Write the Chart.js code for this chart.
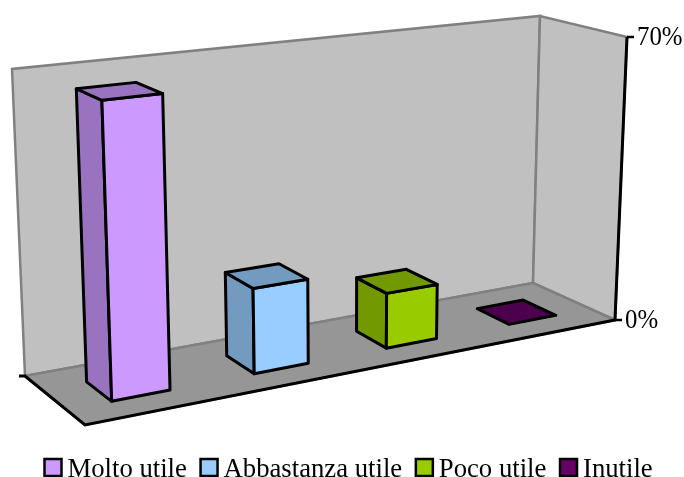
<!DOCTYPE html>
<html>
<head>
<meta charset="utf-8">
<script src="https://cdn.jsdelivr.net/npm/chart.js@4"></script>
<style>
    html, body {margin: 0; background: #fff;}
    canvas {display: block;}
</style>
</head>
<body>
<canvas id="chart" width="684" height="477"></canvas>
<script>
const categories = ['Molto utile', 'Abbastanza utile', 'Poco utile', 'Inutile'];
const values = [66.3, 19.5, 13, 0];
const faceColors = ['#cc99ff', '#99ccff', '#99cc00', '#660066'];
const sideColors = ['#9a73c0', '#739abf', '#739900', '#4d004d'];
const yTicks = [0, 70];

const font = 'Liberation Serif';
const axisFontSize = 27, axisFontStretch = 0.92, legendFontSize = 26.7;

// Corners of the 3D box, as [left, right] pairs of {front, back}.
const box = {
    bottom: {front: [[85, 425], [615, 320]], back: [[25, 376], [533, 283]]},
    top: {front: [[73, 97], [627, 37]], back: [[12, 69], [540, 16]]},
};
const perspective = 1.16;         // Foreshortening along the category axis
const barDepth = [0.305, 0.71];   // Depth range of the bars, 0 is the front

const mix = (a, b, t) => [a[0] + (b[0] - a[0]) * t, a[1] + (b[1] - a[1]) * t];

// Project (u: across, v: up, w: into the picture), all in [0; 1], to pixels.
function project(u, v, w) {
    const p = perspective * u / (1 + (perspective - 1) * u);
    const at = ({front, back}) => mix(mix(front[0], front[1], p),
                                      mix(back[0], back[1], p), w);
    return mix(at(box.bottom), at(box.top), v);
}

function poly(ctx, pts, fill, stroke, width) {
    ctx.beginPath();
    pts.forEach(([x, y], i) => i ? ctx.lineTo(x, y) : ctx.moveTo(x, y));
    ctx.closePath();
    if (fill) {
        ctx.fillStyle = fill;
        ctx.fill();
    }
    if (stroke) {
        ctx.strokeStyle = stroke;
        ctx.lineWidth = width;
        ctx.stroke();
    }
}

function line(ctx, pts, width) {
    ctx.beginPath();
    pts.forEach(([x, y], i) => i ? ctx.lineTo(x, y) : ctx.moveTo(x, y));
    ctx.strokeStyle = '#000';
    ctx.lineWidth = width;
    ctx.stroke();
}

// Draws the walls, the floor and the axis.
const walls = {
    id: 'walls',
    beforeDatasetsDraw(chart) {
        const {ctx, scales: {y}} = chart;
        const wallColor = '#c0c0c0', floorColor = '#969696', edge = '#808080';
        ctx.save();
        ctx.lineJoin = 'miter';
        poly(ctx, [project(0, 0, 1), project(0, 1, 1), project(1, 1, 1),
                   project(1, 0, 1)], wallColor, edge, 2.5);
        poly(ctx, [project(1, 0, 1), project(1, 1, 1), project(1, 1, 0),
                   project(1, 0, 0)], wallColor, edge, 2.5);
        poly(ctx, [project(0, 0, 0), project(0, 0, 1), project(1, 0, 1),
                   project(1, 0, 0)], floorColor, edge, 2.5);

        // Floor edges, with the tick marks of the category axes.
        const fl = project(0, 0, 0), fr = project(1, 0, 0), bl = project(0, 0, 1);
        line(ctx, [[bl[0] - 6, bl[1]], bl, fl, fr], 3);

        // Value axis.
        const h = y.bottom - y.top;
        line(ctx, [fr, project(1, 1, 0)], 3);
        ctx.font = `${axisFontSize}px "${font}"`;
        ctx.textAlign = 'left';
        ctx.textBaseline = 'middle';
        for (const t of y.ticks) {
            const p = project(1, (y.bottom - y.getPixelForValue(t.value)) / h, 0);
            line(ctx, [p, [p[0] + 7, p[1]]], 2.5);
            // The labels are narrower than the font at this height.
            ctx.save();
            ctx.translate(p[0] + 10, p[1] + 1);
            ctx.scale(axisFontStretch, 1);
            ctx.fillStyle = '#000';
            ctx.fillText(`${t.value}%`, 0, 0);
            ctx.restore();
        }
        ctx.restore();
    },
};

// Draws each bar element of the dataset as a box.
const boxes = {
    id: 'boxes',
    beforeDatasetDraw(chart, args) {
        const {ctx, chartArea: a, scales: {y}} = chart;
        const [w0, w1] = barDepth;
        ctx.save();
        ctx.lineJoin = 'round';
        for (const [i, bar] of args.meta.data.entries()) {
            const u0 = (bar.x - bar.width / 2 - a.left) / a.width;
            const u1 = (bar.x + bar.width / 2 - a.left) / a.width;
            const v = (bar.base - bar.y) / (y.bottom - y.top);
            const pts = (v, w) => [project(u0, v, w), project(u1, v, w)];
            const [fb0, fb1] = pts(0, w0), [ft0, ft1] = pts(v, w0);
            const [bb0] = pts(0, w1), [bt0, bt1] = pts(v, w1);
            const face = bar.options.backgroundColor;
            const side = sideColors[i];
            if (v > 0) {
                poly(ctx, [bb0, bt0, ft0, fb0], side, '#000', 3);
                poly(ctx, [ft0, ft1, fb1, fb0], face, '#000', 3);
            }
            poly(ctx, [bt0, bt1, ft1, ft0], side, '#000', 3);
        }
        ctx.restore();
        return false;
    },
};

// Draws the legend: the built-in one can't set the gap after the box.
const legendRow = {
    id: 'legendRow',
    afterDraw(chart) {
        const {ctx} = chart;
        const size = 17, boxGap = 6, itemGap = 13.7, top = 459;
        let x = 44.5;
        ctx.save();
        ctx.font = `${legendFontSize}px "${font}"`;
        ctx.textAlign = 'left';
        ctx.textBaseline = 'alphabetic';
        for (const [i, c] of categories.entries()) {
            ctx.fillStyle = faceColors[i];
            ctx.strokeStyle = '#000';
            ctx.lineWidth = 2.5;
            ctx.fillRect(x, top, size, size);
            ctx.strokeRect(x, top, size, size);
            ctx.fillStyle = '#000';
            ctx.fillText(c, x + size + boxGap, 476.5);
            x += size + boxGap + ctx.measureText(c).width + itemGap;
        }
        ctx.restore();
    },
};

new Chart(document.getElementById('chart'), {
    type: 'bar',
    data: {
        labels: categories,
        datasets: [{data: values, backgroundColor: faceColors}],
    },
    plugins: [walls, boxes, legendRow],
    options: {
        responsive: false,
        animation: false,
        layout: {padding: 0},
        categoryPercentage: 0.8,
        barPercentage: 0.5,
        plugins: {
            legend: {display: false},
            tooltip: {enabled: false},
        },
        scales: {
            x: {display: false},
            y: {
                display: false, min: yTicks[0], max: yTicks[1],
                afterBuildTicks: s => {
                    s.ticks = yTicks.map(value => ({value}));
                },
            },
        },
    },
});
</script>
</body>
</html>
